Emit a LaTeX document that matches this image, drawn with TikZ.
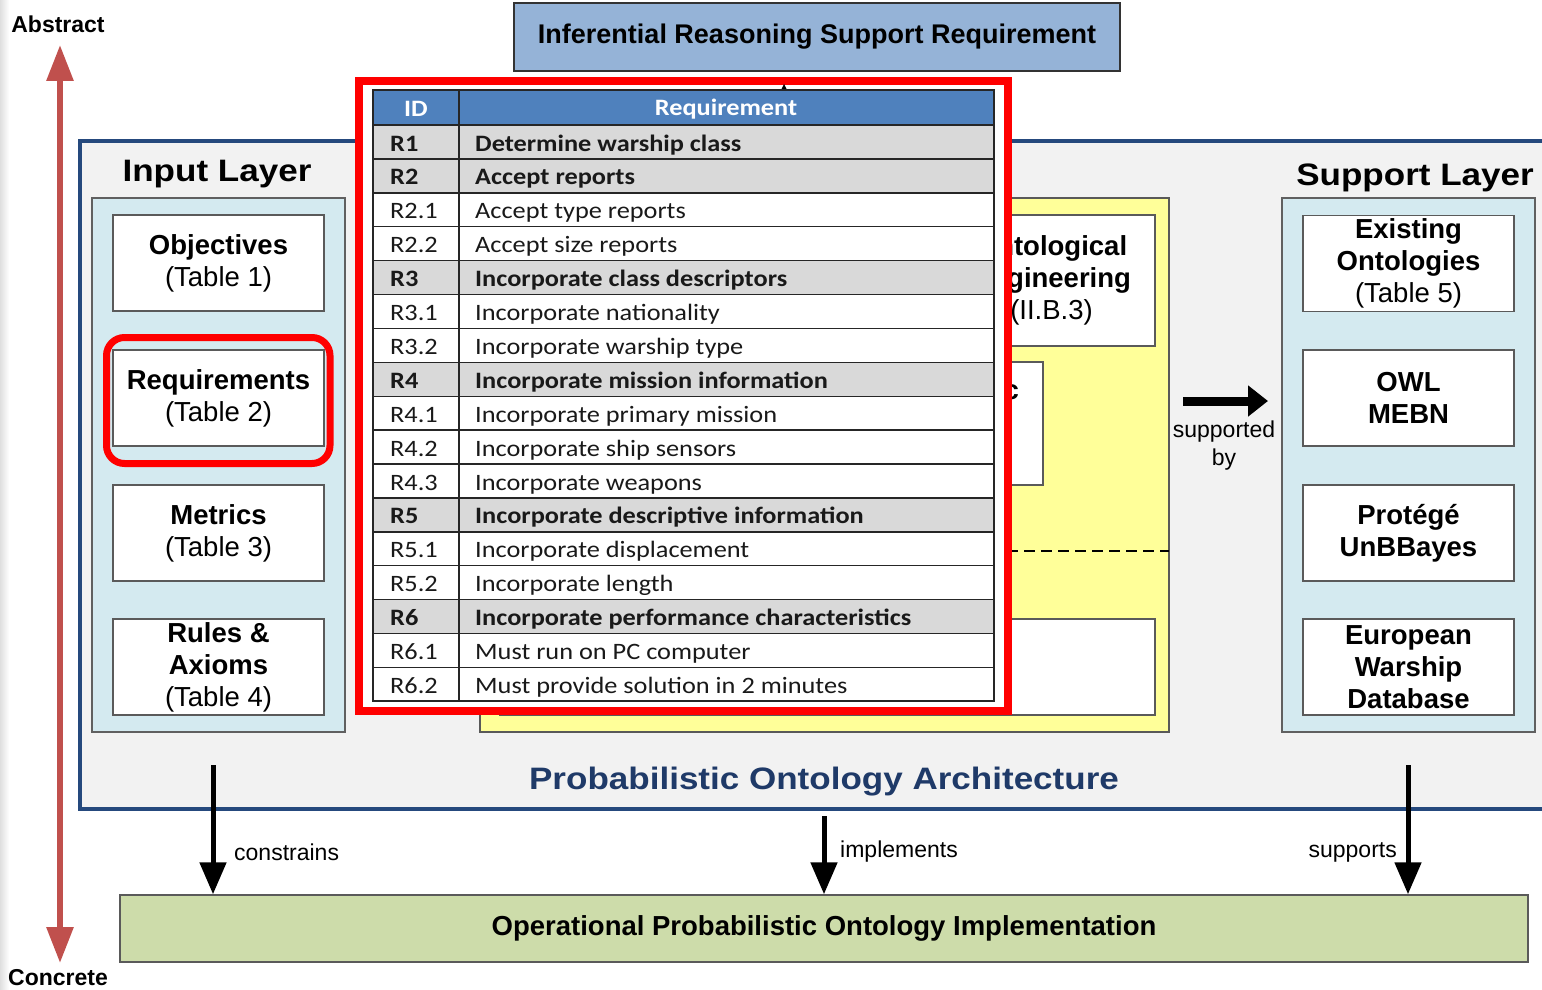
\documentclass[tikz,border=0pt]{standalone}
\usepackage{fontspec}
\setmainfont{Liberation Sans}
\newfontfamily\wideSans[FakeStretch=1.13]{Liberation Sans}
\newfontfamily\tblfont[FakeStretch=1.12]{Carlito}
\usetikzlibrary{arrows.meta}
\definecolor{archblue}{HTML}{25497D}
\definecolor{archtext}{HTML}{1F3A68}
\definecolor{panelblue}{HTML}{D4EAF0}
\definecolor{boxedge}{HTML}{5A5A5A}
\definecolor{irsfill}{HTML}{95B3D7}
\definecolor{hdrblue}{HTML}{4F81BD}
\definecolor{rowgray}{HTML}{D9D9D9}
\definecolor{implgreen}{HTML}{CDDCAA}
\definecolor{axisred}{HTML}{C0504D}
\definecolor{hilite}{HTML}{FF0000}
\definecolor{paleyellow}{HTML}{FFFF99}
\begin{document}
\begin{tikzpicture}[x=1pt,y=-1pt,
  panel/.style={draw=gray!75!black, line width=1.3pt, fill=panelblue},
  itembox/.style={draw=boxedge, line width=1.5pt, fill=white, minimum width=211pt,
    minimum height=96pt, align=center, inner sep=0pt, font=\fontsize{27.5}{32}\selectfont},
  layertitle/.style={font=\wideSans\bfseries\fontsize{31}{36}\selectfont, inner sep=0pt},
  axislabel/.style={font=\bfseries\fontsize{23}{26}\selectfont, inner sep=0pt},
  flowlabel/.style={font=\fontsize{23}{28}\selectfont, inner sep=0pt, align=center},
  flowarrow/.style={line width=5pt, -{Triangle[width=26pt,length=32pt]}},
  cellline/.style={draw=black!85, line width=1.4pt},
  hdrtext/.style={font=\tblfont\bfseries\fontsize{23.5}{26}\selectfont, text=white, inner sep=0pt},
]
\useasboundingbox (0,0) rectangle (1542,990);
\clip (0,0) rectangle (1542,990);

% faint page edge shading
\shade[left color=gray!25, right color=white] (0,0) rectangle (9,990);

% abstraction axis
\node[axislabel] (abs) at (58,24) {Abstract};
\node[axislabel] (con) at (58,978) {Concrete};
\coordinate (axtop) at (60,45);
\coordinate (axbot) at (60,963);
\draw[axisred, line width=6pt,
  {Triangle[width=26pt,length=36pt]}-{Triangle[width=26pt,length=36pt]}] (axtop) -- (axbot);

% architecture frame
\draw[archblue, line width=4pt, fill=gray!10] (80,141) rectangle (1580,809);
\node[layertitle] (inlayer) at (217,174) {Input Layer};
\node[layertitle] (suplayer) at (1415,178) {Support Layer};
\node[layertitle, text=archtext] (archname) at (824,782) {Probabilistic Ontology Architecture};

% requirement on top
\node[draw=black!80, line width=1.5pt, fill=irsfill, minimum width=606pt, minimum height=68pt,
  font=\bfseries\fontsize{27}{30}\selectfont] (irs) at (817,37) {Inferential Reasoning Support Requirement};

% input layer
\draw[panel] (92,198) rectangle (345,732);
\node[itembox] (obj) at (218.5,263) {\textbf{Objectives}\\(Table 1)};
\node[itembox] (req) at (218.5,398) {\textbf{Requirements}\\(Table 2)};
\node[itembox] (met) at (218.5,533) {\textbf{Metrics}\\(Table 3)};
\node[itembox] (rules) at (218.5,667) {\textbf{Rules \&}\\\textbf{Axioms}\\(Table 4)};
\draw[hilite, line width=7pt, rounded corners=18pt] (106.5,337.5) rectangle (330,463.5);

% central engineering panel
\draw[draw=gray!70!black, line width=1.3pt, fill=paleyellow] (480,198) rectangle (1169,732);
\node[itembox, minimum width=207pt, minimum height=131pt] (onteng) at (1051.5,280.5)
  {\textbf{Ontological}\\\textbf{Engineering}\\(II.B.3)};
\node[itembox, minimum width=343pt, minimum height=123pt] (pbox) at (871.5,423.5) {};
\node[font=\bfseries\fontsize{27.5}{30}\selectfont, anchor=base east, inner sep=0pt] (pword) at (1019,399) {Probabilistic};
\draw[line width=1.2pt, dash pattern=on 11pt off 6pt] (480,551) -- (1169,551);
\node[itembox, minimum width=655pt, minimum height=96pt] (lowbox) at (827.5,667) {};

% support layer
\draw[panel] (1282,198) rectangle (1535,732);
\node[itembox] (exist) at (1408.5,263.5) {\textbf{Existing}\\\textbf{Ontologies}\\(Table 5)};
\node[itembox] (owl) at (1408.5,398) {\textbf{OWL}\\\textbf{MEBN}};
\node[itembox] (prot) at (1408.5,533) {\textbf{Protégé}\\\textbf{UnBBayes}};
\node[itembox] (ewd) at (1408.5,667) {\textbf{European}\\\textbf{Warship}\\\textbf{Database}};

% supported by
\coordinate (sbfrom) at (1183,401);
\coordinate (sbto) at (1268,401);
\draw[line width=9pt, -{Triangle[width=30pt,length=20pt]}] (sbfrom) -- (sbto);
\node[flowlabel] (sblabel) at (1224,446) {supported\\by};

% requirements table in its highlight frame
\draw[hilite, line width=8pt, fill=white] (359,81) rectangle (1008,711);
\fill (780.5,91) -- (787.5,91) -- (784,84) -- cycle;
\draw[cellline, fill=hdrblue] (373,90) rectangle (994,125);
\node[hdrtext] (hid) at (416,109) {ID};
\node[hdrtext] (hreq) at (726,109) {Requirement};
\foreach \rid/\rtxt/\rc/\rf [count=\i] in {
  R1/Determine warship class/rowgray/\bfseries,
  R2/Accept reports/rowgray/\bfseries,
  R2.1/Accept type reports/white/\mdseries,
  R2.2/Accept size reports/white/\mdseries,
  R3/Incorporate class descriptors/rowgray/\bfseries,
  R3.1/Incorporate nationality/white/\mdseries,
  R3.2/Incorporate warship type/white/\mdseries,
  R4/Incorporate mission information/rowgray/\bfseries,
  R4.1/Incorporate primary mission/white/\mdseries,
  R4.2/Incorporate ship sensors/white/\mdseries,
  R4.3/Incorporate weapons/white/\mdseries,
  R5/Incorporate descriptive information/rowgray/\bfseries,
  R5.1/Incorporate displacement/white/\mdseries,
  R5.2/Incorporate length/white/\mdseries,
  R6/Incorporate performance characteristics/rowgray/\bfseries,
  R6.1/Must run on PC computer/white/\mdseries,
  R6.2/Must provide solution in 2 minutes/white/\mdseries}
{
  \pgfmathsetmacro\ytop{125+(\i-1)*33.9}
  \pgfmathsetmacro\ybot{\ytop+33.9}
  \pgfmathsetmacro\ybase{\ytop+26}
  \draw[cellline, fill=\rc] (373,\ytop) rectangle (994,\ybot);
  \node[font=\tblfont\rf\fontsize{23.5}{26}\selectfont, text=black!90, anchor=base west, inner sep=0pt]
    (id\i) at (390,\ybase) {\rid};
  \node[font=\tblfont\rf\fontsize{23.5}{26}\selectfont, text=black!90, anchor=base west, inner sep=0pt]
    (rq\i) at (475,\ybase) {\rtxt};
}
\draw[cellline] (459,90) -- (459,701.3);
\draw[black!85, line width=2pt] (373,90) rectangle (994,701.3);

% implementation
\node[draw=boxedge, line width=1.5pt, fill=implgreen, minimum width=1408pt, minimum height=67pt,
  font=\bfseries\fontsize{27.5}{30}\selectfont] (impl) at (824,928.5)
  {Operational Probabilistic Ontology Implementation};
\coordinate (cfrom) at (213,765);
\coordinate (ifrom) at (824,816);
\coordinate (sfrom) at (1408,765);
\draw[flowarrow] (cfrom) -- (cfrom |- impl.north);
\draw[flowarrow] (ifrom) -- (ifrom |- impl.north);
\draw[flowarrow] (sfrom) -- (sfrom |- impl.north);
\node[flowlabel, anchor=west] (lcon) at (234,852) {constrains};
\node[flowlabel, anchor=west] (limp) at (840,852) {implements};
\node[flowlabel, anchor=east] (lsup) at (1397,852) {supports};
\end{tikzpicture}
\end{document}
